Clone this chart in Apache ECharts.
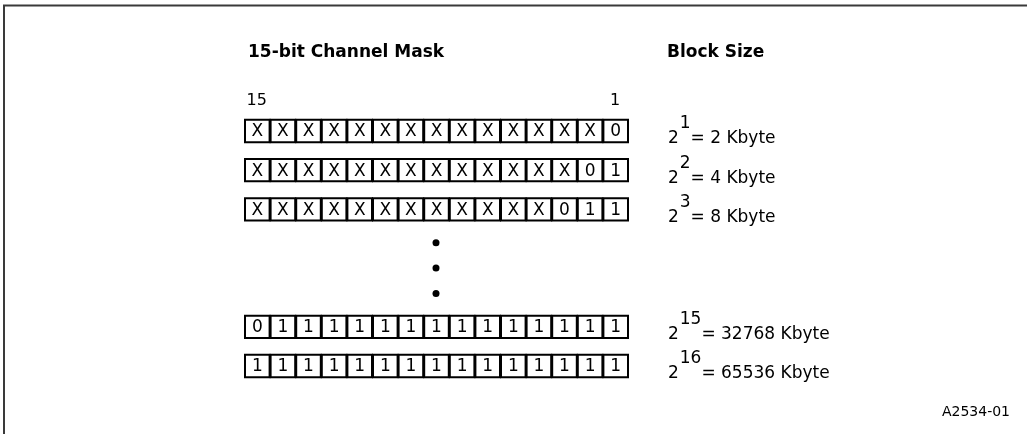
<!DOCTYPE html>
<html>
<head>
<meta charset="utf-8">
<script src="https://cdn.jsdelivr.net/npm/echarts@6/dist/echarts.min.js"></script>
<style>
html,body{margin:0;padding:0;background:#fff;}
#chart{width:1027px;height:434px;}
</style>
</head>
<body>
<div id="chart"></div>
<script>
// ---- data ----
const maskTitle = '15-bit Channel Mask';
const sizeTitle = 'Block Size';
const bitLabels = ['15', '1'];
const bitLabelCols = [0, 14];
const rowPatterns = ['XXXXXXXXXXXXXX0', 'XXXXXXXXXXXXX01', 'XXXXXXXXXXXX011', '011111111111111', '111111111111111'];
const rowPositions = [0, 1, 2, 5, 6];
const exponents = ['1', '2', '3', '15', '16'];
const blockSizes = ['2', '4', '8', '32768', '65536'];
const dotPositions = [2.85, 3.5, 4.15];
const figureId = 'A2534-01';

// ---- build ----
const FONT = '"DejaVu Sans", "Liberation Sans", Arial, sans-serif';
const cells = [];
rowPatterns.forEach((pat, r) => {
  pat.split('').forEach((ch, c) => cells.push({ value: [c, rowPositions[r]], ch }));
});
const cellChars = cells.map(d => d.ch);

const mctx = document.createElement('canvas').getContext('2d');
function textW(t, size, weight) {
  mctx.font = (weight || 'normal') + ' ' + size + 'px ' + FONT;
  return mctx.measureText(t).width;
}

const chart = echarts.init(document.getElementById('chart'), null, { renderer: 'canvas' });
const LABEL_SIZE = 17;

chart.setOption({
  backgroundColor: '#fff',
  animation: false,
  grid: { left: 244, right: 399, top: 131, bottom: 68, containLabel: false },
  xAxis: { type: 'value', min: 0, max: 15, show: false },
  yAxis: { type: 'value', min: 0, max: 6, inverse: true, show: false },
  graphic: [
    { type: 'polyline', shape: { points: [[4, 440], [4, 5.5], [1040, 5.5]] }, style: { stroke: '#3a3a3a', lineWidth: 2, fill: null } },
    { type: 'text', left: 248, top: 44, style: { text: maskTitle, font: 'bold 17px ' + FONT, fill: '#000' } },
    { type: 'text', left: 667, top: 44, style: { text: sizeTitle, font: 'bold 17px ' + FONT, fill: '#000' } },
    { type: 'text', right: 17, top: 405, style: { text: figureId, font: '14px ' + FONT, fill: '#000' } }
  ],
  series: [
    {
      type: 'custom',
      name: 'cells',
      data: cells.map(d => d.value),
      clip: false,
      renderItem: function (params, api) {
        const col = api.value(0), row = api.value(1);
        const p0 = api.coord([col, row]);
        const p1 = api.coord([col + 1, row]);
        const w = p1[0] - p0[0];
        const h = api.size([0, 0.57])[1];
        return {
          type: 'group',
          children: [
            { type: 'rect', shape: { x: p0[0] + 1, y: p0[1] - h / 2, width: w - 1, height: h },
              style: { fill: '#fff', stroke: '#000', lineWidth: 2 } },
            { type: 'text', x: p0[0] + w / 2 + 0.5, y: p0[1] + 1,
              style: { text: cellChars[params.dataIndex], font: '17px ' + FONT, fill: '#000', align: 'center', verticalAlign: 'middle' } }
          ]
        };
      }
    },
    {
      type: 'custom',
      name: 'bits',
      data: bitLabelCols.map(c => [c + 0.5, -0.77]),
      clip: false,
      renderItem: function (params, api) {
        const p = api.coord([api.value(0), api.value(1)]);
        return { type: 'text', x: p[0], y: p[1],
          style: { text: bitLabels[params.dataIndex], font: '16px ' + FONT, fill: '#000', align: 'center', verticalAlign: 'middle' } };
      }
    },
    {
      type: 'scatter',
      name: 'dots',
      data: dotPositions.map(y => [7.5, y]),
      symbol: 'circle',
      symbolSize: 7,
      itemStyle: { color: '#000', opacity: 1 },
      silent: true
    },
    {
      type: 'custom',
      name: 'sizes',
      data: rowPositions.map(r => [16.56, r]),
      clip: false,
      renderItem: function (params, api) {
        const p = api.coord([api.value(0), api.value(1)]);
        const i = params.dataIndex;
        const y = p[1] + 8;
        const w2 = textW('2', LABEL_SIZE);
        const wExp = textW(exponents[i], LABEL_SIZE);
        const fnt = LABEL_SIZE + 'px ' + FONT;
        return {
          type: 'group',
          children: [
            { type: 'text', x: p[0], y: y, style: { text: '2', font: fnt, fill: '#000', align: 'left', verticalAlign: 'middle' } },
            { type: 'text', x: p[0] + w2 + 1, y: y - 15, style: { text: exponents[i], font: fnt, fill: '#000', align: 'left', verticalAlign: 'middle' } },
            { type: 'text', x: p[0] + w2 + wExp + 1, y: y, style: { text: '= ' + blockSizes[i] + ' Kbyte', font: fnt, fill: '#000', align: 'left', verticalAlign: 'middle' } }
          ]
        };
      }
    }
  ]
});
</script>
</body>
</html>
